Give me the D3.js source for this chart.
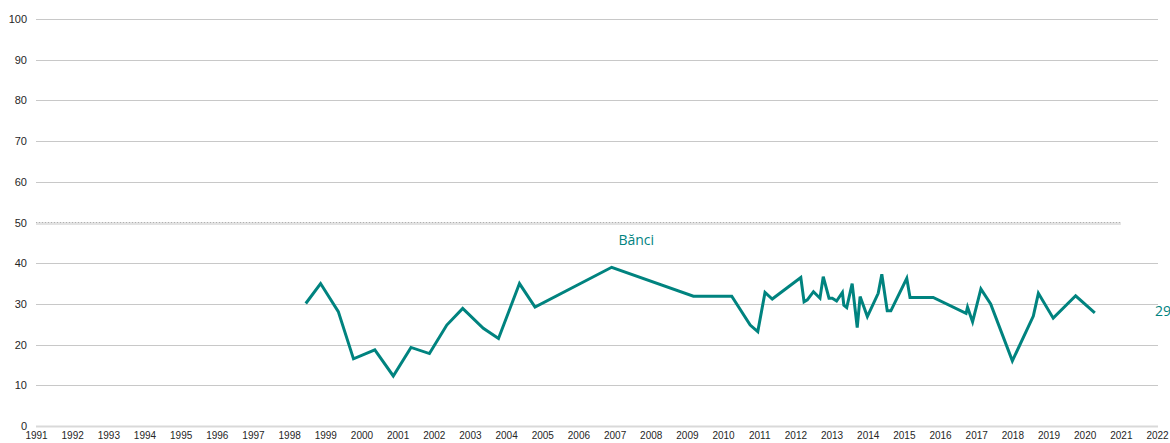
<!DOCTYPE html>
<html>
<head>
<meta charset="utf-8">
<script src="https://cdn.jsdelivr.net/npm/d3@7"></script>
<style>
  body { margin: 0; background: #fff; }
  svg { display: block; }
  .tick text { font-family: "Liberation Sans", Arial, sans-serif; fill: #262626; }
</style>
</head>
<body>
<svg width="1170" height="443"></svg>
<script>
const years = [
  1998.46, 1998.87, 1999.36, 1999.78, 2000.37, 2000.88, 2001.37, 2001.88, 2002.36, 2002.8,
  2003.37, 2003.79, 2004.37, 2004.8, 2006.92, 2009.18, 2010.24, 2010.75, 2010.96, 2011.16,
  2011.36, 2012.15, 2012.24, 2012.33, 2012.5, 2012.68, 2012.77, 2012.93, 2013.02, 2013.14,
  2013.3, 2013.34, 2013.42, 2013.57, 2013.71, 2013.79, 2013.99, 2014.29, 2014.39, 2014.54,
  2014.64, 2015.08, 2015.17, 2015.81, 2016.72, 2016.76, 2016.9, 2017.13, 2017.4, 2018.0,
  2018.58, 2018.72, 2019.13, 2019.75, 2020.28
];
const values = [
  30.1, 35.0, 28.1, 16.5, 18.7, 12.3, 19.3, 17.8, 24.8, 28.9,
  24.0, 21.5, 35.0, 29.2, 39.0, 31.9, 31.9, 24.8, 23.2, 32.8,
  31.2, 36.5, 30.5, 31.0, 33.0, 31.4, 36.7, 31.4, 31.4, 30.7,
  32.8, 29.7, 29.1, 35.0, 24.2, 31.8, 26.9, 32.6, 37.3, 28.3,
  28.3, 36.3, 31.6, 31.6, 27.7, 29.2, 25.6, 33.7, 30.0, 16.0,
  27.0, 32.6, 26.5, 32.0, 27.8
];
const yearTicks = d3.range(1991, 2023);
const valueTicks = d3.range(0, 101, 10);
const threshold = 50;
const thresholdEnd = 2021;
const seriesName = "Bănci";
const seriesLabelAt = [2007.6, 45.5];
const lastLabel = "29";
const lastLabelAt = [2022, 28];

const data = years.map((y, i) => ({ year: y, value: values[i] }));

const svg = d3.select("svg");
const color = "#00837f";

const x = d3.scaleLinear().domain([1991, 2022]).range([36, 1157]);
const y = d3.scaleLinear().domain([0, 100]).range([426, 19]);

// horizontal gridlines
svg.append("g")
  .selectAll("line")
  .data(valueTicks.filter(v => v !== threshold))
  .join("line")
  .attr("x1", x(1991))
  .attr("x2", x(2022) + 1)
  .attr("y1", d => Math.round(y(d)) + 0.5)
  .attr("y2", d => Math.round(y(d)) + 0.5)
  .attr("stroke", d => d === 0 ? "#d9d9d9" : "#c8c8c8")
  .attr("stroke-width", d => d === 0 ? 2 : 1);

// dotted 50 line: light band with dots on top
const ty = Math.round(y(threshold)) + 0.5;
svg.append("line")
  .attr("x1", x(1991)).attr("x2", x(thresholdEnd))
  .attr("y1", ty).attr("y2", ty)
  .attr("stroke", "#e2e2e2")
  .attr("stroke-width", 3);
svg.append("line")
  .attr("x1", x(1991)).attr("x2", x(thresholdEnd))
  .attr("y1", ty - 1).attr("y2", ty - 1)
  .attr("stroke", "#b0b0b0")
  .attr("stroke-width", 1)
  .attr("stroke-dasharray", "1 2");

// y axis labels
const yAxis = svg.append("g")
  .attr("transform", "translate(27,0)")
  .call(d3.axisLeft(y).tickValues(valueTicks).tickSize(0).tickPadding(0));
yAxis.select(".domain").remove();
yAxis.selectAll("text").attr("font-size", 11);

// x axis labels
const xAxis = svg.append("g")
  .attr("transform", "translate(0,430)")
  .call(d3.axisBottom(x).tickValues(yearTicks).tickFormat(d3.format("d")).tickSize(0).tickPadding(2));
xAxis.select(".domain").remove();
xAxis.selectAll("text").attr("font-size", 10);

// series line
const line = d3.line()
  .x(d => x(d.year))
  .y(d => y(d.value));

svg.append("path")
  .datum(data)
  .attr("fill", "none")
  .attr("stroke", color)
  .attr("stroke-width", 3)
  .attr("stroke-linejoin", "miter")
  .attr("d", line);

svg.append("text")
  .attr("x", x(seriesLabelAt[0]))
  .attr("y", y(seriesLabelAt[1]))
  .attr("text-anchor", "middle")
  .attr("dominant-baseline", "middle")
  .attr("font-family", "'Open Sans', 'Noto Sans', sans-serif")
  .attr("font-size", 14)
  .attr("fill", color)
  .text(seriesName);

svg.append("text")
  .attr("x", x(lastLabelAt[0]) - 2)
  .attr("y", y(lastLabelAt[1]))
  .attr("dominant-baseline", "middle")
  .attr("font-family", "'Open Sans', 'Noto Sans', sans-serif")
  .attr("font-size", 14)
  .attr("fill", color)
  .text(lastLabel);
</script>
</body>
</html>
